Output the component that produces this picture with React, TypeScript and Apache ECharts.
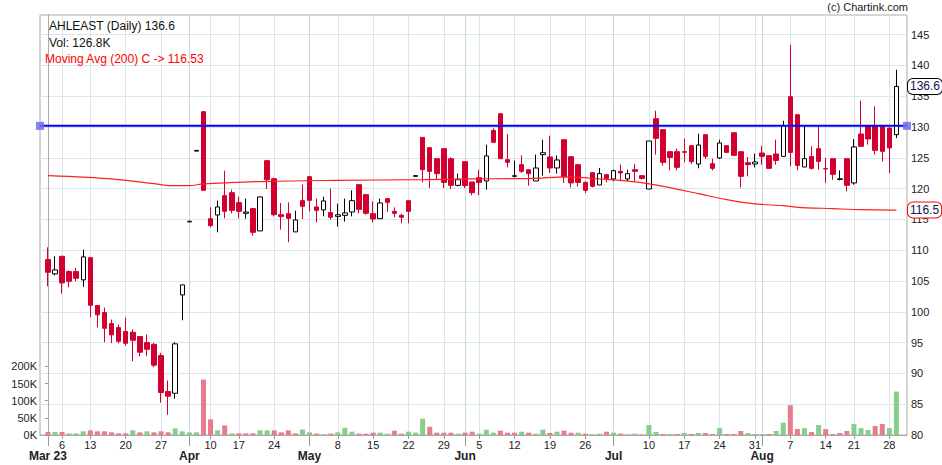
import React, { useEffect, useRef } from "react";
import * as echarts from "echarts";

// ---- trading days (2023) ----
const marDays = [2, 3, 6, 8, 9, 10, 13, 14, 15, 16, 17, 20, 21, 22, 23, 24, 27, 28, 29, 31];
const aprDays = [3, 5, 6, 10, 11, 12, 13, 17, 18, 19, 20, 21, 24, 25, 26, 27, 28];
const mayDays = [2, 3, 4, 5, 8, 9, 10, 11, 12, 15, 16, 17, 18, 19, 22, 23, 24, 25, 26, 29, 30, 31];
const junDays = [1, 2, 5, 6, 7, 8, 9, 12, 13, 14, 15, 16, 19, 20, 21, 22, 23, 26, 27, 28, 30];
const julDays = [3, 4, 5, 6, 7, 10, 11, 12, 13, 14, 17, 18, 19, 20, 21, 24, 25, 26, 27, 28, 31];
const augDays = [1, 2, 3, 4, 7, 8, 9, 10, 11, 14, 16, 17, 18, 21, 22, 23, 24, 25, 28, 29];
const monthNames = ["Mar 23", "Apr", "May", "Jun", "Jul", "Aug"];

// ---- OHLC ----
const opens = [
  108.48, 106.16, 109.02, 106.53, 106.53, 105.19, 108.8, 101.02, 99.88, 98.09,
  97.44, 96.8, 96.68, 95.98, 95.01, 94.73, 92.9, 87.06, 86.78, 102.75,
  114.6, 126.1, 132.5, 115.13, 115.73, 118.87, 119.35, 117.73, 116.0, 116.76,
  113.14, 124.55, 121.62, 115.78, 115.94, 112.98, 118.05, 121.95, 117.03, 116.55,
  116.11, 115.5, 115.67, 116.22, 120.65, 119.03, 115.94, 115.13, 118.38, 116.32,
  115.67, 118.05, 122.0, 128.33, 126.66, 124.87, 126.49, 124.87, 120.54, 124.38,
  121.09, 121.79, 121.25, 129.46, 132.17, 124.71, 122.0, 123.9, 123.08, 121.25,
  125.52, 125.15, 123.36, 127.95, 125.19, 123.9, 121.02, 122.6, 120.6, 122.27,
  121.58, 122.81, 121.58, 123.08, 122.11, 119.95, 131.36, 129.58, 126.01, 126.01,
  126.01, 126.98, 124.01, 128.77, 124.06, 124.98, 126.98, 129.09, 126.01, 124.22,
  124.01, 125.79, 125.36, 125.63, 125.24, 134.93, 132.01, 123.52, 125.24, 126.49,
  123.25, 124.87, 121.5, 124.87, 120.93, 128.88, 130.11, 130.11, 130.11, 129.85,
  128.77,
];
const closes = [
  106.42, 106.81, 104.7, 104.96, 105.45, 108.92, 101.06, 99.51, 97.33, 96.26,
  95.22, 94.9, 95.38, 93.44, 93.92, 91.33, 86.9, 86.3, 94.8, 104.37,
  114.7, 126.2, 119.73, 114.0, 117.03, 116.32, 116.48, 116.32, 116.2, 112.91,
  118.66, 121.46, 115.78, 115.46, 115.18, 114.92, 117.13, 118.1, 116.48, 118.0,
  115.35, 115.75, 116.06, 118.05, 116.64, 115.99, 115.08, 117.68, 117.78, 115.99,
  115.35, 116.32, 122.11, 123.08, 122.81, 122.44, 121.02, 120.54, 121.46, 120.49,
  119.35, 121.02, 125.31, 127.52, 124.87, 124.27, 122.1, 122.81, 122.44, 123.36,
  125.84, 123.36, 124.66, 121.9, 120.93, 121.02, 119.73, 120.38, 122.44, 121.67,
  122.92, 122.55, 122.44, 122.81, 121.67, 127.74, 128.17, 124.27, 125.08, 123.46,
  125.9, 124.38, 127.09, 125.24, 123.3, 127.42, 125.89, 125.41, 122.0, 123.9,
  124.33, 125.24, 123.3, 124.59, 130.22, 125.89, 123.78, 124.87, 123.3, 124.43,
  123.2, 122.33, 121.6, 120.54, 126.77, 126.87, 128.07, 126.22, 126.06, 126.61,
  136.6,
];
const lows = [
  104.15, 105.93, 102.96, 103.98, 104.96, 104.05, 99.12, 97.49, 95.06, 94.9,
  94.9, 94.52, 91.98, 92.79, 92.79, 91.0, 85.27, 83.29, 85.92, 98.63,
  114.6, 126.1, 119.73, 113.72, 112.91, 115.18, 115.99, 115.18, 115.13, 112.37,
  113.14, 119.95, 115.51, 113.35, 111.29, 112.98, 115.08, 116.32, 114.53, 115.51,
  114.97, 113.84, 114.65, 115.51, 115.99, 115.78, 114.53, 115.13, 116.22, 115.35,
  114.37, 114.37, 122.0, 121.02, 120.11, 121.46, 120.11, 119.95, 120.38, 120.11,
  118.92, 118.92, 119.84, 127.5, 124.87, 123.46, 121.84, 122.55, 120.49, 121.25,
  122.11, 122.55, 122.44, 120.93, 120.21, 120.33, 119.3, 120.2, 120.6, 121.02,
  121.19, 121.19, 121.19, 121.14, 121.46, 119.95, 125.52, 123.73, 122.97, 122.97,
  124.27, 124.01, 123.3, 124.82, 122.97, 124.82, 125.8, 125.3, 120.21, 122.0,
  123.46, 123.9, 123.2, 123.9, 125.24, 123.62, 122.97, 123.52, 123.08, 123.08,
  120.93, 121.46, 121.35, 119.56, 120.65, 126.8, 127.14, 125.52, 124.43, 122.55,
  128.23,
];
const highs = [
  110.48, 109.02, 109.1, 106.74, 107.13, 110.1, 108.8, 101.02, 100.69, 98.74,
  97.93, 99.07, 97.17, 95.98, 96.31, 94.96, 93.34, 88.84, 95.06, 104.4,
  114.8, 126.3, 132.5, 116.97, 118.05, 122.92, 119.84, 118.7, 118.38, 116.8,
  118.7, 124.55, 121.79, 117.68, 117.78, 116.43, 120.65, 121.95, 118.38, 118.7,
  120.0, 117.57, 118.38, 119.73, 120.65, 119.03, 117.94, 118.38, 118.4, 116.97,
  115.94, 118.05, 122.2, 128.33, 126.66, 124.9, 126.5, 125.08, 122.44, 124.4,
  121.1, 123.08, 127.14, 129.8, 132.2, 128.88, 124.55, 125.41, 123.1, 125.52,
  127.95, 128.6, 125.41, 128.0, 125.2, 123.9, 121.19, 122.6, 123.36, 122.3,
  123.08, 123.9, 123.08, 124.01, 122.11, 127.74, 132.66, 129.6, 126.01, 126.49,
  128.1, 127.0, 128.93, 128.8, 124.87, 127.95, 127.0, 129.1, 126.01, 125.15,
  125.68, 126.98, 125.4, 127.95, 131.03, 143.37, 132.01, 130.22, 126.87, 130.22,
  124.98, 124.9, 122.97, 124.9, 128.07, 134.28, 130.2, 133.36, 130.2, 129.9,
  139.31,
];
// ---- volume (thousands) ----
const volumesK = [
  8.7, 8.7, 8.7, 4.8, 4.8, 10.7, 13.6, 10.7, 10.7, 7.8,
  4.8, 4.8, 13.6, 7.8, 10.7, 7.8, 10.7, 7.8, 19.4, 10.7,
  7.8, 7.8, 162, 45.5, 13.6, 28, 4.8, 4.8, 4.8, 4.8,
  13.6, 13.6, 13.6, 7.8, 13.6, 4.8, 16, 7.8, 4.3, 2,
  3.9, 7.8, 21, 9.7, 3.9, 3.9, 6.8, 6.8, 3.9, 12.6,
  3.9, 9.7, 6.8, 47.5, 24, 6.8, 6.8, 6.8, 3.9, 6.8,
  9.7, 3.9, 15.5, 6.8, 12.6, 6.8, 6.8, 9.7, 6.8, 3.9,
  15.5, 5.8, 9.7, 12.6, 6.8, 6.8, 3.9, 2, 3.9, 9.7,
  6.8, 3.9, 1, 3.9, 1.5, 29, 8.7, 2.9, 2.9, 2.9,
  5.8, 2.9, 5.8, 5.8, 2.9, 20, 2.9, 2.9, 11.6, 5.8,
  2.9, 2.9, 2.9, 11.6, 36, 87, 17.4, 20, 8.7, 29,
  17.4, 2.9, 5.8, 11.6, 32, 20, 14.5, 26, 32, 20,
  126.8,
];
// ---- 200-day moving average, read at [day index, value] ----
const maPoints = [
  [0, 122.11], [5, 121.87], [10, 121.46], [15, 120.81], [17, 120.5], [20, 120.49],
  [22, 120.77], [31, 121.19], [41, 121.35], [53, 121.46], [59, 121.58], [69, 121.67],
  [73, 121.9], [78, 121.58], [83, 121.09], [87, 120.38], [92, 119.19], [96, 118.22],
  [100, 117.52], [104, 117.24], [106, 116.97], [111, 116.76], [115, 116.59], [120, 116.53],
];
const priceTicks = [80, 85, 90, 95, 100, 105, 110, 115, 120, 125, 130, 135, 140, 145];
const volumeTicksK = [0, 50, 100, 150, 200];
const trendLevel = 130.2;
const ticker = "AHLEAST";
const maPeriod = 200;

const FONT = '"Liberation Sans", Arial, Helvetica, sans-serif';
const X_MIN = -1.12;
const X_MAX = 121.5;

function buildDates() {
  const months = [marDays, aprDays, mayDays, junDays, julDays, augDays];
  const list: { m: number; d: number; mi: number }[] = [];
  months.forEach((days, mi) => days.forEach((d) => list.push({ m: mi + 2, d, mi })));
  return list;
}

export default function App() {
  const ref = useRef<HTMLDivElement>(null);

  useEffect(() => {
    document.body.style.margin = "0";
    if (!ref.current) return;
    const chart = echarts.init(ref.current, null, { renderer: "svg" });

    const dates = buildDates();
    const weekTicks: number[] = [];
    const monthTicks: number[] = [];
    const weekLabel: Record<number, string> = {};
    const monthLabel: Record<number, string> = {};
    dates.forEach((dt, i) => {
      const prev = dates[i - 1];
      if (!prev || prev.m !== dt.m) {
        monthTicks.push(i);
        monthLabel[i] = monthNames[dt.mi];
        return;
      }
      const cur = new Date(2023, dt.m, dt.d);
      const pr = new Date(2023, prev.m, prev.d);
      const gap = (cur.getTime() - pr.getTime()) / 86400000;
      if (cur.getDay() < pr.getDay() || gap >= 7) {
        weekTicks.push(i);
        weekLabel[i] = String(dt.d);
      }
    });

    const last = closes.length - 1;
    const lastClose = closes[last];
    const lastMa = maPoints[maPoints.length - 1][1];

    const candleData = closes.map((c, i) => [i, opens[i], c, lows[i], highs[i]]);
    const volumeData = volumesK.map((v, i) => {
      const up = i === 0 ? closes[0] >= opens[0] : closes[i] >= closes[i - 1];
      return { value: [i, v], itemStyle: { color: up ? "#86cf8a" : "#e97b8f" } };
    });

    const gridLine = "#d9e7ed";

    chart.setOption({
      animation: false,
      backgroundColor: "#ffffff",
      textStyle: { fontFamily: FONT },
      grid: {
        left: 40,
        right: 35,
        top: 15,
        bottom: 30,
        show: true,
        borderColor: "#aaaaaa",
        borderWidth: 1,
        backgroundColor: "transparent",
      },
      xAxis: [
        {
          type: "value",
          min: X_MIN,
          max: X_MAX,
          position: "bottom",
          axisLine: { show: true, lineStyle: { color: "#aaaaaa" } },
          axisTick: { show: true, length: 4, lineStyle: { color: "#999999" }, customValues: weekTicks },
          axisLabel: {
            customValues: weekTicks,
            formatter: (v: number) => weekLabel[Math.round(v)] ?? "",
            color: "#222222",
            fontSize: 11,
            margin: 4,
          },
          splitLine: { show: true, lineStyle: { color: gridLine, width: 1 } },
        },
        {
          type: "value",
          min: X_MIN,
          max: X_MAX,
          position: "bottom",
          axisLine: { show: false },
          axisTick: { show: true, length: 11, lineStyle: { color: "#999999" }, customValues: monthTicks },
          axisLabel: {
            customValues: monthTicks,
            formatter: (v: number) => monthLabel[Math.round(v)] ?? "",
            color: "#222222",
            fontSize: 12,
            fontWeight: "bold",
            margin: 15,
          },
          splitLine: { show: true, lineStyle: { color: "#cad7df", width: 1 } },
        },
      ],
      yAxis: [
        {
          type: "value",
          position: "right",
          min: 80,
          max: 148.2,
          axisLine: { show: true, lineStyle: { color: "#aaaaaa" } },
          axisTick: { show: false, customValues: priceTicks },
          axisLabel: { customValues: priceTicks, color: "#222222", fontSize: 11, margin: 4 },
          splitLine: { show: true, lineStyle: { color: gridLine, width: 1 } },
        },
        {
          type: "value",
          position: "left",
          min: 0,
          max: 1226,
          axisLine: { show: true, lineStyle: { color: "#aaaaaa" } },
          axisTick: { show: true, length: 3, lineStyle: { color: "#999999" }, customValues: volumeTicksK },
          axisLabel: {
            customValues: volumeTicksK,
            formatter: (v: number) => `${v}K`,
            color: "#222222",
            fontSize: 11,
            margin: 3,
          },
          splitLine: { show: false },
        },
      ],
      series: [
        {
          name: "Volume",
          type: "bar",
          xAxisIndex: 0,
          yAxisIndex: 1,
          barWidth: 5,
          data: volumeData,
          z: 1,
        },
        {
          name: ticker,
          type: "candlestick",
          xAxisIndex: 0,
          yAxisIndex: 0,
          barWidth: 5,
          data: candleData,
          itemStyle: {
            color: "#ffffff",
            color0: "#d2002f",
            borderColor: "#000000",
            borderColor0: "#d2002f",
            borderWidth: 1,
          },
          z: 3,
          markLine: {
            silent: true,
            symbol: ["none", "none"],
            lineStyle: { color: "transparent", width: 0 },
            label: {
              show: true,
              position: "end",
              distance: 1,
              formatter: lastClose.toFixed(1),
              backgroundColor: "#ffffff",
              borderColor: "#000000",
              borderWidth: 1,
              borderRadius: 5,
              padding: [2, 2, 1, 2],
              color: "#10104a",
              fontSize: 12,
            },
            data: [{ yAxis: lastClose }],
          },
        },
        {
          name: `MA${maPeriod}`,
          type: "line",
          xAxisIndex: 0,
          yAxisIndex: 0,
          data: maPoints,
          showSymbol: false,
          symbol: "none",
          smooth: 0.3,
          lineStyle: { color: "#ff1f1f", width: 1.2 },
          z: 4,
          markLine: {
            silent: true,
            symbol: ["none", "none"],
            lineStyle: { color: "transparent", width: 0 },
            label: {
              show: true,
              position: "end",
              distance: 1,
              formatter: lastMa.toFixed(1),
              backgroundColor: "#ffffff",
              borderColor: "#ff0000",
              borderWidth: 1,
              borderRadius: 5,
              padding: [2, 2, 1, 2],
              color: "#10104a",
              fontSize: 12,
            },
            data: [{ yAxis: lastMa }],
          },
        },
        {
          name: "Trendline",
          type: "line",
          xAxisIndex: 0,
          yAxisIndex: 0,
          data: [
            [X_MIN, trendLevel],
            [X_MAX, trendLevel],
          ],
          clip: false,
          showSymbol: true,
          symbol: "rect",
          symbolSize: 8,
          itemStyle: { color: "rgba(110,110,235,0.85)" },
          lineStyle: { color: "#0000ff", width: 2 },
          z: 5,
        },
      ],
      graphic: [
        {
          type: "text",
          x: 908,
          y: 7,
          z: 100,
          style: { text: "(c) Chartink.com", fill: "#222222", font: `11px ${FONT}`, align: "right", verticalAlign: "middle" },
        },
        {
          type: "text",
          x: 49,
          y: 26,
          z: 100,
          style: { text: `${ticker} (Daily) ${lastClose.toFixed(1)}`, fill: "#111111", font: `12px ${FONT}`, align: "left", verticalAlign: "middle" },
        },
        {
          type: "text",
          x: 49,
          y: 43,
          z: 100,
          style: { text: `Vol: ${volumesK[last].toFixed(1)}K`, fill: "#111111", font: `12px ${FONT}`, align: "left", verticalAlign: "middle" },
        },
        {
          type: "text",
          x: 45,
          y: 59,
          z: 100,
          style: { text: `Moving Avg (${maPeriod}) C -> ${lastMa.toFixed(2)}`, fill: "#ff0000", font: `12px ${FONT}`, align: "left", verticalAlign: "middle" },
        },
      ],
    });

    return () => chart.dispose();
  }, []);

  return <div ref={ref} style={{ position: "fixed", left: 0, top: 0, width: 942, height: 465 }} />;
}
